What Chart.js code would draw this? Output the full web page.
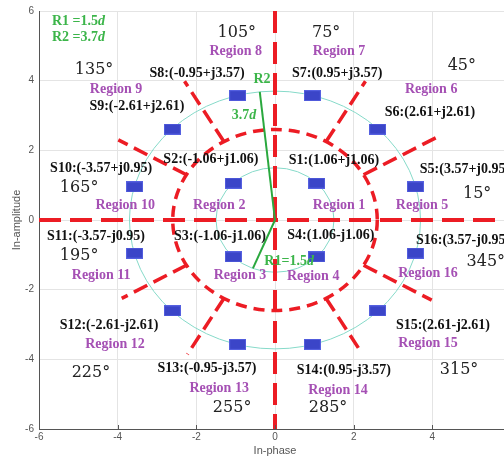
<!DOCTYPE html>
<html>
<head>
<meta charset="utf-8">
<script src="https://cdn.jsdelivr.net/npm/chart.js@4/dist/chart.umd.min.js"></script>
<style>
  html, body { margin: 0; padding: 0; background: #fff; overflow: hidden; }
  #wrap { width: 520px; height: 459px; }
</style>
</head>
<body>
<div id="wrap"><canvas id="c" width="520" height="459"></canvas></div>
<script>
// 16-point constellation: in-phase / quadrature values of each symbol
const symbolNames = ['S1','S2','S3','S4','S5','S6','S7','S8','S9','S10','S11','S12','S13','S14','S15','S16'];
const symbolI = [1.06, -1.06, -1.06, 1.06, 3.57, 2.61, 0.95, -0.95, -2.61, -3.57, -3.57, -2.61, -0.95, 0.95, 2.61, 3.57];
const symbolQ = [1.06, 1.06, -1.06, -1.06, 0.95, 2.61, 3.57, 3.57, 2.61, 0.95, -0.95, -2.61, -3.57, -3.57, -2.61, -0.95];

// ring radii (in units of d) and the decision boundary radius between rings
const innerRadius = 1.5;
const outerRadius = 3.7;
const boundaryRadius = 2.6;

// radial decision boundaries (degrees) and how far each one reaches
const boundaryAngles = [30, 60, 120, 150, 210, 240, 300, 330];
const boundaryReach = [4.9, 4.6, 4.6, 4.6, 4.5, 4.45, 4.4, 4.6];

// radius markers drawn from the origin (angle in degrees)
const radiusMarkerAngles = [96, 248];

// axis ticks
const axisMin = -6, axisMax = 6, axisStep = 2;

// text placement (axis units)
const symbolLabelX = [1.50, -1.63, -1.40, 1.42, 4.83, 3.94, 1.58, -1.98, -3.51, -4.42, -4.55, -4.22, -1.73, 1.75, 4.27, 4.78];
const symbolLabelY = [1.70, 1.75, -0.48, -0.45, 1.44, 3.09, 4.22, 4.22, 3.25, 1.47, -0.48, -3.03, -4.27, -4.33, -3.03, -0.59];

const regionNumbers = [1, 2, 3, 4, 5, 6, 7, 8, 9, 10, 11, 12, 13, 14, 15, 16];
const regionLabelX = [1.63, -1.42, -0.89, 0.97, 3.74, 3.97, 1.63, -1.00, -4.04, -3.81, -4.42, -4.07, -1.42, 1.60, 3.89, 3.89];
const regionLabelY = [0.42, 0.42, -1.58, -1.61, 0.42, 3.76, 4.84, 4.84, 3.76, 0.42, -1.58, -3.57, -4.84, -4.90, -3.54, -1.53];

const sectorAngles = [15, 45, 75, 105, 135, 165, 195, 225, 255, 285, 315, 345];
const sectorLabelX = [5.14, 4.75, 1.30, -0.97, -4.60, -4.98, -4.98, -4.68, -1.09, 1.35, 4.68, 5.36];
const sectorLabelY = [0.76, 4.42, 5.38, 5.38, 4.30, 0.91, -1.02, -4.39, -5.38, -5.38, -4.30, -1.19];

const RED = '#ec1c24';
const GREEN = '#2aa83e';
const GREEN_TEXT = '#3cb54a';
const PURPLE = '#a550b4';
const TEAL = '#86dac9';
const BLUE = '#3b45c8';

const fmt = v => v.toFixed(2);
const symbolText = i => {
  const q = symbolQ[i];
  return symbolNames[i] + ':(' + fmt(symbolI[i]) + (q < 0 ? '-' : '+') + 'j' + fmt(Math.abs(q)) + ')';
};

// rectangular marker for the symbols
const marker = document.createElement('canvas');
marker.width = 17; marker.height = 11;
(function () {
  const m = marker.getContext('2d');
  m.fillStyle = BLUE;
  m.fillRect(0, 0, 17, 11);
  m.strokeStyle = '#5560e0';
  m.lineWidth = 1;
  m.strokeRect(0.5, 0.5, 16, 10);
})();

const rad = a => a * Math.PI / 180;

const geometryPlugin = {
  id: 'geometry',
  beforeDatasetsDraw(chart) {
    const { ctx, scales: { x, y } } = chart;
    const cx = x.getPixelForValue(0), cy = y.getPixelForValue(0);
    const ellipse = r => {
      ctx.beginPath();
      ctx.ellipse(cx, cy, x.getPixelForValue(r) - cx, cy - y.getPixelForValue(r), 0, 0, Math.PI * 2);
      ctx.stroke();
    };
    ctx.save();
    // symbol rings
    ctx.strokeStyle = TEAL;
    ctx.lineWidth = 1;
    ellipse(innerRadius);
    ellipse(outerRadius);

    // decision boundaries
    ctx.strokeStyle = RED;
    ctx.lineCap = 'butt';
    ctx.lineWidth = 3.5;
    ctx.setLineDash([11, 7]);
    ellipse(boundaryRadius);

    ctx.setLineDash([15, 7]);
    boundaryAngles.forEach((a, k) => {
      const c = Math.cos(rad(a)), s = Math.sin(rad(a));
      ctx.beginPath();
      ctx.moveTo(x.getPixelForValue(boundaryRadius * c), y.getPixelForValue(boundaryRadius * s));
      ctx.lineTo(x.getPixelForValue(boundaryReach[k] * c), y.getPixelForValue(boundaryReach[k] * s));
      ctx.stroke();
    });

    // I and Q axes boundaries
    ctx.lineWidth = 4;
    ctx.setLineDash([22, 9]);
    ctx.beginPath();
    ctx.moveTo(x.getPixelForValue(axisMin), cy);
    ctx.lineTo(x.getPixelForValue(axisMax), cy);
    ctx.stroke();
    ctx.beginPath();
    ctx.moveTo(cx, y.getPixelForValue(axisMax));
    ctx.lineTo(cx, y.getPixelForValue(axisMin));
    ctx.stroke();
    ctx.restore();
  },
  afterDatasetsDraw(chart) {
    const { ctx, scales: { x, y } } = chart;
    ctx.save();
    ctx.textAlign = 'center';
    ctx.textBaseline = 'middle';

    // sector angles
    ctx.fillStyle = '#222';
    ctx.font = '16px "DejaVu Serif"';
    sectorAngles.forEach((a, k) => {
      ctx.fillText(a + '\u00b0', x.getPixelForValue(sectorLabelX[k]), y.getPixelForValue(sectorLabelY[k]));
    });

    // region names
    ctx.fillStyle = PURPLE;
    ctx.font = 'bold 14px "Liberation Serif"';
    regionNumbers.forEach((n, k) => {
      ctx.fillText('Region ' + n, x.getPixelForValue(regionLabelX[k]), y.getPixelForValue(regionLabelY[k]));
    });

    // symbol coordinates
    ctx.fillStyle = '#111';
    ctx.font = 'bold 14px "Liberation Serif"';
    symbolNames.forEach((n, k) => {
      ctx.fillText(symbolText(k), x.getPixelForValue(symbolLabelX[k]), y.getPixelForValue(symbolLabelY[k]));
    });

    // radius annotations
    const greenText = (main, italic, px, py, align) => {
      ctx.font = 'bold 14px "Liberation Serif"';
      const w1 = ctx.measureText(main).width;
      ctx.font = 'italic bold 14px "Liberation Serif"';
      const w2 = italic ? ctx.measureText(italic).width : 0;
      let left = align === 'left' ? px : px - (w1 + w2) / 2;
      ctx.textAlign = 'left';
      ctx.fillStyle = GREEN_TEXT;
      ctx.font = 'bold 14px "Liberation Serif"';
      ctx.fillText(main, left, py);
      if (italic) {
        ctx.font = 'italic bold 14px "Liberation Serif"';
        ctx.fillText(italic, left + w1, py);
      }
    };
    greenText('R1 =' + innerRadius, 'd', x.getPixelForValue(-5.67), y.getPixelForValue(5.69), 'left');
    greenText('R2 =' + outerRadius, 'd', x.getPixelForValue(-5.67), y.getPixelForValue(5.24), 'left');
    greenText('R2', '', x.getPixelForValue(-0.33), y.getPixelForValue(4.05), 'center');
    greenText(String(outerRadius), 'd', x.getPixelForValue(-0.79), y.getPixelForValue(3.0), 'center');
    greenText('R1=' + innerRadius, 'd', x.getPixelForValue(0.36), y.getPixelForValue(-1.19), 'center');
    ctx.restore();
  },
  afterDraw(chart) {
    // short inward tick marks along the bottom axis
    const { ctx, chartArea, scales: { x } } = chart;
    ctx.save();
    ctx.strokeStyle = '#555';
    ctx.lineWidth = 1;
    for (let v = axisMin + axisStep; v < axisMax; v += axisStep) {
      const p = Math.round(x.getPixelForValue(v)) + 0.5;
      ctx.beginPath();
      ctx.moveTo(p, chartArea.bottom);
      ctx.lineTo(p, chartArea.bottom - 4);
      ctx.stroke();
    }
    ctx.restore();
  }
};

const radiusMarkers = radiusMarkerAngles.map((a, k) => {
  const r = k === 0 ? outerRadius : innerRadius;
  return {
    type: 'line',
    data: [{ x: 0, y: 0 }, { x: r * Math.cos(rad(a)), y: r * Math.sin(rad(a)) }],
    borderColor: GREEN,
    borderWidth: 2,
    pointRadius: 0,
    fill: false
  };
});

new Chart(document.getElementById('c'), {
  type: 'scatter',
  data: {
    datasets: [
      ...radiusMarkers,
      {
        type: 'scatter',
        data: symbolI.map((v, k) => ({ x: v, y: symbolQ[k] })),
        pointStyle: marker,
        pointRadius: 6
      }
    ]
  },
  options: {
    responsive: false,
    animation: false,
    events: [],
    devicePixelRatio: 1,
    layout: { padding: { left: 0, right: 9, top: 5, bottom: 0 } },
    plugins: { legend: { display: false }, tooltip: { enabled: false } },
    scales: {
      x: {
        type: 'linear',
        min: axisMin, max: axisMax,
        ticks: { stepSize: axisStep, color: '#555', padding: 2, font: { family: 'Liberation Sans', size: 10 } },
        grid: { color: '#e4e4e4', drawTicks: false },
        border: { color: '#555', width: 1 },
        title: { display: true, text: 'In-phase', color: '#555', padding: { top: 0, bottom: 1 }, font: { family: 'Liberation Sans', size: 11 } },
        afterFit: s => { s.height = 30; }
      },
      y: {
        type: 'linear',
        min: axisMin, max: axisMax,
        ticks: { stepSize: axisStep, color: '#555', padding: 5, font: { family: 'Liberation Sans', size: 10 } },
        grid: { color: '#e4e4e4', drawTicks: false },
        border: { color: '#555', width: 1 },
        title: { display: true, text: 'In-amplitude', color: '#555', padding: { top: 10, bottom: 0 }, font: { family: 'Liberation Sans', size: 11 } },
        afterFit: s => { s.width = 39; }
      }
    }
  },
  plugins: [geometryPlugin]
});
</script>
</body>
</html>
